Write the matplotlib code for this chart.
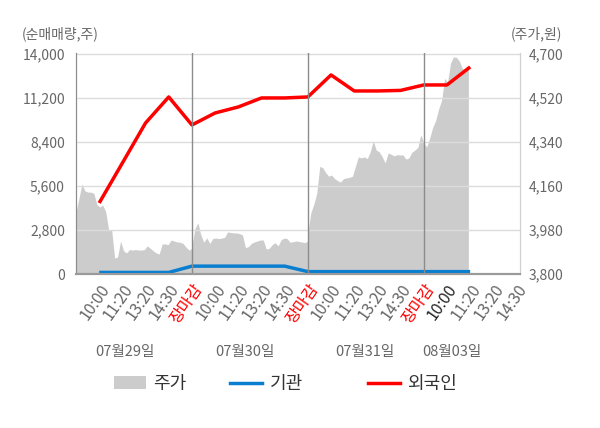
import matplotlib
matplotlib.use("Agg")
import matplotlib.pyplot as plt
import numpy as np
from matplotlib.patches import Patch
from matplotlib.lines import Line2D

plt.rcParams['font.family'] = ['Noto Sans CJK KR', 'DejaVu Sans']

# 주가 (per day, evenly spaced samples over the session)
price_d1 = [4054, 4110, 4168, 4140, 4135, 4135, 4130, 4085, 4074, 4082,
            4054, 3980, 3980, 3865, 3870, 3935, 3895, 3886, 3900, 3898,
            3900, 3898, 3898, 3900, 3915, 3905, 3895, 3886, 3882, 3923,
            3923, 3920, 3939, 3935, 3931, 3930, 3925, 3910, 3898, 3905]
price_d2 = [3915, 3985, 4009, 3960, 3930, 3948, 3925, 3945, 3947, 3945,
            3947, 3950, 3972, 3970, 3968, 3968, 3965, 3960, 3908, 3912,
            3925, 3931, 3935, 3939, 3939, 3902, 3905, 3920, 3928, 3915,
            3940, 3947, 3945, 3930, 3932, 3935, 3933, 3931, 3928, 3935]
price_d3 = [3970, 4050, 4085, 4130, 4240, 4235, 4215, 4200, 4205, 4190,
            4182, 4176, 4190, 4193, 4195, 4200, 4240, 4279, 4275, 4279,
            4272, 4300, 4345, 4307, 4300, 4280, 4254, 4295, 4290, 4283,
            4288, 4287, 4287, 4270, 4275, 4298, 4307, 4318, 4370, 4336]
price_d4 = [4336, 4320, 4356, 4400, 4428, 4475, 4510, 4600, 4585, 4663,
            4688, 4686, 4670, 4640, 4635, 4639]
price_days = [price_d1, price_d2, price_d3, price_d4]
samples_per_day = 40

# 순매매량 at each time slot (10:00 .. 장마감, 4 days)
inst = [100, 100, 100, 100, 500, 500, 500, 500, 500,
        150, 150, 150, 150, 150, 150, 150, 150]
foreign = [4518, 7060, 9609, 11264, 9482, 10245, 10627, 11200, 11200,
           11264, 12664, 11645, 11645, 11680, 12027, 12027, 13173]

slot_labels = ['10:00', '11:20', '13:20', '14:30', '장마감'] * 3 + \
              ['10:00', '11:20', '13:20', '14:30']
dates = ['07월29일', '07월30일', '07월31일', '08월03일']
date_pos = [2.1, 7.3, 12.45, 16.2]

slots_per_day = 5
gray_txt = '#666666'
c_price, c_inst, c_for = '#cccccc', '#0a7fd0', '#ff0000'

fig = plt.figure(figsize=(6, 4.28), dpi=100)
ax = fig.add_axes([76/600, 1 - 274/428, 444/600, 221/428])
ax2 = ax.twinx()
ax.set_zorder(ax2.get_zorder() + 1)
ax.patch.set_visible(False)
ax2.set_facecolor('#f4f4f4')

# price area on the right axis
for d, vals in enumerate(price_days):
    xs = d * slots_per_day + np.arange(len(vals)) * slots_per_day / (samples_per_day - 1)
    ax2.fill_between(xs, 3800, vals, color=c_price, lw=0)

xk = np.arange(1, len(foreign) + 1)
ax.plot(xk, inst, color=c_inst, lw=2.5, solid_capstyle='butt')
ax.plot(xk, foreign, color=c_for, lw=2.5, solid_capstyle='butt')

for b in [5, 10, 15]:
    ax.axvline(b, color='#8c8c8c', lw=1)

ax.set_xlim(0, 19.15)
ax.set_ylim(0, 14060)
ax2.set_ylim(3800, 4704)
ax.set_yticks([0, 2800, 5600, 8400, 11200, 14000])
ax.set_yticklabels(['0', '2,800', '5,600', '8,400', '11,200', '14,000'])
ax2.set_yticks([3800, 3980, 4160, 4340, 4520, 4700])
ax2.set_yticklabels(['3,800', '3,980', '4,160', '4,340', '4,520', '4,700'])
ax.grid(axis='y', color='#dcdcdc', lw=1)
ax.tick_params(axis='y', length=0, pad=8, labelsize=10, labelcolor=gray_txt)
ax2.tick_params(axis='y', length=0, pad=6, labelsize=10, labelcolor=gray_txt)

ax.set_xticks(np.arange(1, len(slot_labels) + 1))
ax.set_xticklabels(slot_labels, rotation=55, ha='right', va='top',
                   rotation_mode='anchor')
ax.tick_params(axis='x', length=0, pad=5, labelsize=11.5, labelcolor=gray_txt)
for i, t in enumerate(ax.get_xticklabels()):
    if slot_labels[i] == '장마감':
        t.set_color('#ff0000')
    elif i == 15:
        t.set_color('#222222')

for a in (ax, ax2):
    a.spines['top'].set_visible(False)
    a.spines['left'].set_color('#8c8c8c')
    a.spines['bottom'].set_color('#9a9a9a')
    a.spines['bottom'].set_linewidth(1.5)
    a.spines['right'].set_color('#d0d0d0')

for p, d in zip(date_pos, dates):
    ax.text(p, -0.355, d, transform=ax.get_xaxis_transform(), ha='center',
            va='center', fontsize=10.5, color=gray_txt)

fig.text(22/600, 1 - 34/428, '(순매매량,주)', ha='left', va='center',
         fontsize=10, color=gray_txt)
fig.text(562/600, 1 - 34/428, '(주가,원)', ha='right', va='center',
         fontsize=10, color=gray_txt)

# legend: one entry each, placed where the reference has them
handles = [Patch(facecolor=c_price, edgecolor='none'),
           Line2D([], [], color=c_inst, lw=2.5),
           Line2D([], [], color=c_for, lw=2.5)]
names = ['주가', '기관', '외국인']
leg_x = [114, 230, 368]
for h, n, lx in zip(handles, names, leg_x):
    lg = fig.legend([h], [n], loc='center left',
                    bbox_to_anchor=(lx/600, 1 - 384/428), frameon=False,
                    fontsize=13, handlelength=1.77, handleheight=0.7,
                    handletextpad=0.42, borderpad=0, borderaxespad=0,
                    labelcolor='#333333')

fig.savefig('out.png', dpi=100)
